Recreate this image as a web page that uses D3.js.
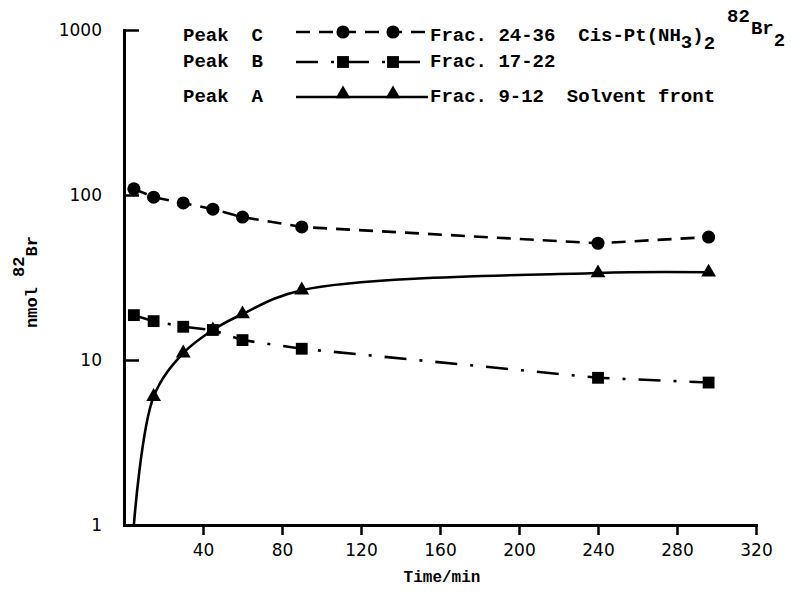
<!DOCTYPE html>
<html>
<head>
<meta charset="utf-8">
<script src="https://cdn.jsdelivr.net/npm/d3@7"></script>
<style>
  body { margin: 0; background: #fff; }
  svg { display: block; }
</style>
</head>
<body>
<svg id="chart" width="791" height="597"></svg>
<script>
var timeMin = [5, 15, 30, 45, 60, 90, 240, 296];
var peakC = [109, 97, 89.5, 82, 73.5, 64, 51, 55.6];
var peakB = [18.7, 17.2, 15.9, 15.2, 13.2, 11.7, 7.8, 7.3];
// first point is where the curve leaves the axis, it has no marker
var peakA = [1, 6, 11, 15.2, 19, 26.5, 33.7, 34];
var xTicks = [40, 80, 120, 160, 200, 240, 280, 320];
var yTicks = [1, 10, 100, 1000];
var seriesNames = ['Peak  C', 'Peak  B', 'Peak  A'];
var seriesFracs = ['Frac. 24-36  Cis-Pt(NH', 'Frac. 17-22', 'Frac. 9-12  Solvent front'];

(function() {

  var mono = '"Liberation Mono", "DejaVu Sans Mono", monospace';
  var sans = '"DejaVu Sans", sans-serif';

  var svg = d3.select('#chart');

  var x = d3.scaleLinear().domain([0, 320]).range([124, 756]);
  var y = d3.scaleLog().domain([1, 1000]).range([525, 30]);

  var series = [
    {name: seriesNames[0], frac: seriesFracs[0], values: peakC, dash: '14,9',
      symbol: d3.symbolCircle, size: 135, curve: d3.curveLinear, skip: 0},
    {name: seriesNames[1], frac: seriesFracs[1], values: peakB, dash: '22,13,3,13',
      symbol: d3.symbolSquare, size: 140, curve: d3.curveLinear, skip: 0},
    {name: seriesNames[2], frac: seriesFracs[2], values: peakA, dash: null,
      symbol: d3.symbolTriangle, size: 95, curve: d3.curveCatmullRom.alpha(0.5), skip: 1}
  ];

  // ----------
  var xAxis = svg.append('g')
    .attr('transform', 'translate(0,' + y(1) + ')')
    .call(d3.axisBottom(x).tickValues(xTicks).tickSize(10).tickSizeOuter(0).tickPadding(9));

  var yAxis = svg.append('g')
    .attr('transform', 'translate(' + x(0) + ',0)')
    .call(d3.axisLeft(y).tickValues(yTicks).tickFormat(d3.format('d'))
      .tickSize(-15).tickSizeOuter(0).tickPadding(22));

  [xAxis, yAxis].forEach(function(g) {
    g.select('.domain')
      .attr('stroke', '#000')
      .attr('stroke-width', 3)
      .attr('stroke-linecap', 'square');
    g.selectAll('.tick line')
      .attr('stroke', '#000')
      .attr('stroke-width', 2.5);
    g.selectAll('.tick text')
      .attr('fill', '#000')
      .style('font-family', sans)
      .style('font-size', '17px');
  });

  // ----------
  svg.append('text')
    .attr('x', 442)
    .attr('y', 582)
    .attr('text-anchor', 'middle')
    .style('font-family', mono)
    .style('font-weight', 'bold')
    .style('font-size', '16px')
    .text('Time/min');

  var yTitle = svg.append('text')
    .attr('transform', 'translate(37,282) rotate(-90)')
    .attr('text-anchor', 'middle')
    .style('font-family', mono)
    .style('font-weight', 'bold')
    .style('font-size', '17px');

  yTitle.append('tspan').text('nmol ');
  yTitle.append('tspan').attr('dy', -13).text('82');
  yTitle.append('tspan').attr('dy', 13).text('Br');

  // ----------
  series.forEach(function(s) {
    var pts = timeMin.map(function(t, i) {
      return [t, s.values[i]];
    });

    var line = d3.line()
      .x(function(d) { return x(d[0]); })
      .y(function(d) { return y(d[1]); })
      .curve(s.curve);

    svg.append('path')
      .datum(pts)
      .attr('d', line)
      .attr('fill', 'none')
      .attr('stroke', '#000')
      .attr('stroke-width', 2.6)
      .attr('stroke-dasharray', s.dash);

    svg.selectAll(null)
      .data(pts.slice(s.skip))
      .enter().append('path')
      .attr('transform', function(d) {
        return 'translate(' + x(d[0]) + ',' + y(d[1]) + ')';
      })
      .attr('d', d3.symbol().type(s.symbol).size(s.size))
      .attr('fill', '#000');
  });

  // ----------
  var rowLine = [32, 62, 97];
  var rowText = [41, 67, 102];

  series.forEach(function(s, i) {
    var g = svg.append('g');

    g.append('text')
      .attr('x', 183)
      .attr('y', rowText[i])
      .style('font-family', mono)
      .style('font-weight', 'bold')
      .style('font-size', '19px')
      .style('white-space', 'pre')
      .text(s.name);

    g.append('line')
      .attr('x1', 296)
      .attr('x2', 428)
      .attr('y1', rowLine[i])
      .attr('y2', rowLine[i])
      .attr('stroke', '#000')
      .attr('stroke-width', 2.6)
      .attr('stroke-dasharray', s.dash);

    [343, 393].forEach(function(mx) {
      g.append('path')
        .attr('transform', 'translate(' + mx + ',' + (rowLine[i] - (s.symbol === d3.symbolTriangle ? 3 : 0)) + ')')
        .attr('d', d3.symbol().type(s.symbol).size(s.size))
        .attr('fill', '#000');
    });

    var t = g.append('text')
      .attr('x', 430)
      .attr('y', rowText[i])
      .style('font-family', mono)
      .style('font-weight', 'bold')
      .style('font-size', '19px')
      .style('white-space', 'pre');

    t.append('tspan').text(s.frac);

    if (i === 0) {
      t.append('tspan').attr('dy', 7).text('3');
      t.append('tspan').attr('dy', -7).text(')');
      t.append('tspan').attr('dy', 8).text('2');
      t.append('tspan').attr('dx', 12).attr('dy', -27).text('82');
      t.append('tspan').attr('dx', 1).attr('dy', 12).text('Br');
      t.append('tspan').attr('dy', 12).text('2');
    }
  });

})();
</script>
</body>
</html>
